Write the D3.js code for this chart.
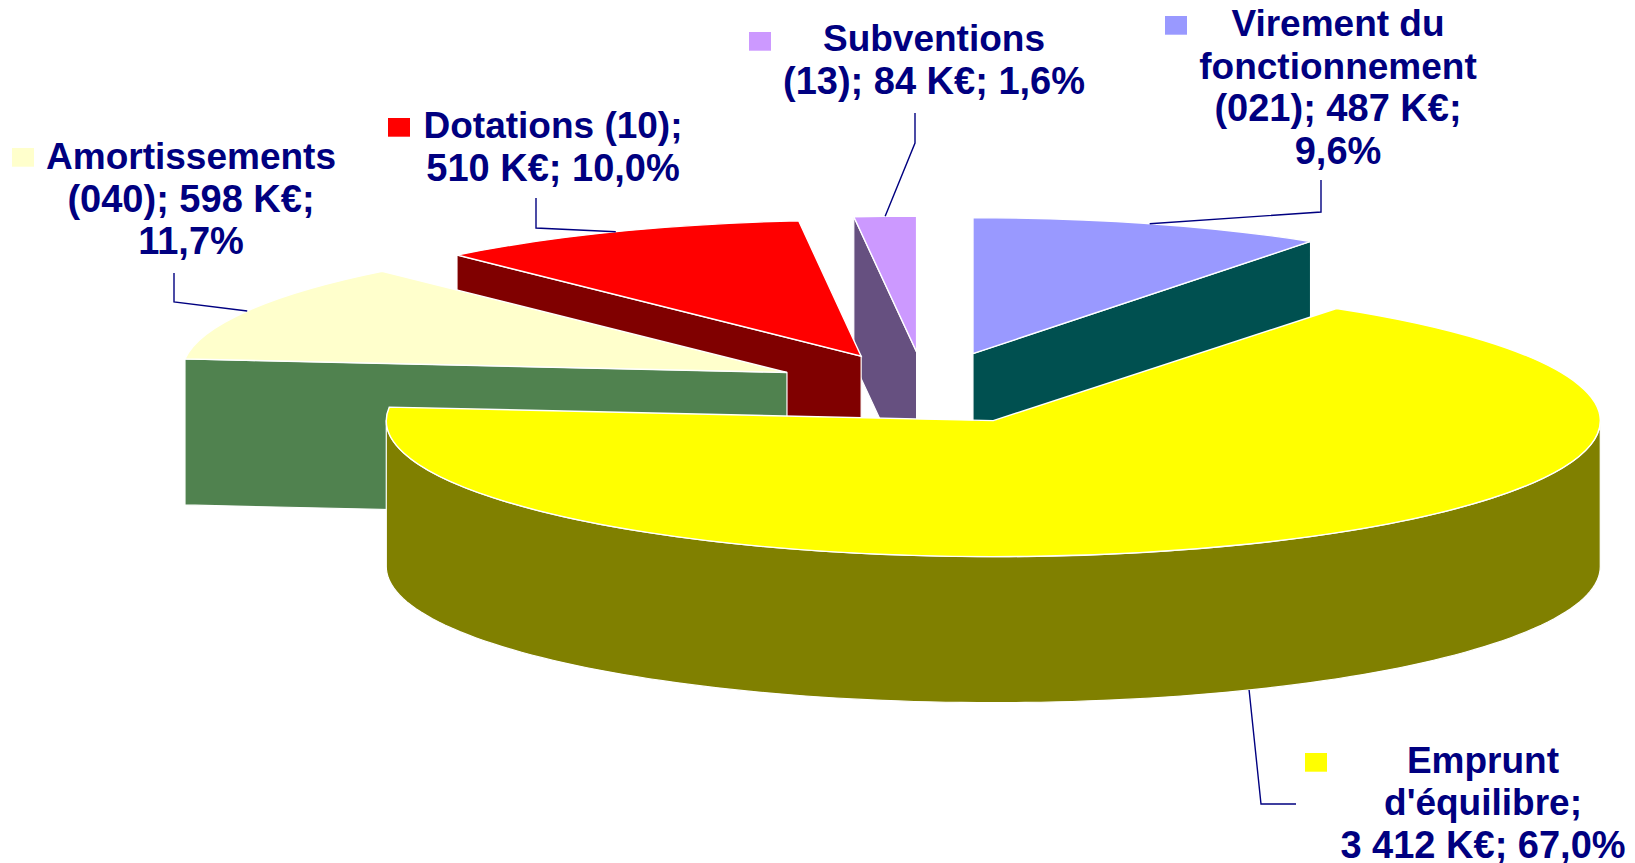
<!DOCTYPE html>
<html>
<head>
<meta charset="utf-8">
<style>
    html, body { margin: 0; padding: 0; background: #fff; overflow: hidden; }
    .slice__top { stroke: #fff; stroke-width: 1.4; vector-effect: non-scaling-stroke; }
    .slice__side { stroke: #fff; stroke-width: 1.2; stroke-linejoin: round; }
    .leader { fill: none; stroke: #000080; stroke-width: 1.4; }
    .label__text { font: bold 37px "Liberation Sans", Arial, sans-serif; fill: #000080; text-anchor: middle; }
</style>
<script src="https://cdn.jsdelivr.net/npm/d3@7/dist/d3.min.js"></script>
</head>
<body>
<script>
// values in K€, clockwise from 12 o'clock
var names  = ['Virement', 'Emprunt', 'Amortissements', 'Dotations', 'Subventions'];
var values = [487, 3412, 598, 510, 84];

var labelLines = [
    ['Virement du', 'fonctionnement', '(021); 487 K€;', '9,6%'],
    ['Emprunt', "d'équilibre;", '3 412 K€; 67,0%'],
    ['Amortissements', '(040); 598 K€;', '11,7%'],
    ['Dotations (10);', '510 K€; 10,0%'],
    ['Subventions', '(13); 84 K€; 1,6%']
];

var topColors  = ['#9999ff', '#ffff00', '#ffffcc', '#ff0000', '#cc99ff'];
var sideColors = ['#005050', '#808000', '#50824f', '#800000', '#665080'];

// per slice layout, same order as names
var explode   = [1, 1, 0.955, 0.97, 1];
var radiusX   = [597, 607, 605, 604, 607];
var cutFace   = ['end', 'wall', 'start', 'start', 'start'];
var labelX    = [1338, 1483, 191, 553, 934];
var labelY    = [36, 772.5, 169, 138, 51];
var keyX      = [1165, 1305, 12, 388, 749];
var keyY      = [16, 753, 148, 118, 32];
var leaderPts = [
    [[1321, 212], [1321, 180]],
    [[1261, 804], [1296, 804]],
    [[174, 302], [174, 273]],
    [[536, 228], [536, 198]],
    [[915, 143], [915, 113]]
];

var drawOrder = [0, 4, 3, 2, 1];

var layout = {
    width: 1635, height: 863,
    center: { x: 925, y: 388 },
    ry: 136, depth: 146,
    explodeX: 162, explodeY: 36,
    lineHeight: 42.5,
    keySize: 22
};

var slices = d3.pie().sort(null).value(d => d)(values);

var svg = d3.select('body').append('svg')
    .attr('width', layout.width)
    .attr('height', layout.height)
;

function apex(i) {
    var mid = (slices[i].startAngle + slices[i].endAngle) / 2;
    return {
        x: layout.center.x + Math.sin(mid) * layout.explodeX * explode[i],
        y: layout.center.y - Math.cos(mid) * layout.explodeY * explode[i]
    };
}

function rim(i, angle) {
    return [Math.sin(angle) * radiusX[i], -Math.cos(angle) * layout.ry];
}

function sidePoints(i) {
    var s = slices[i], d = layout.depth;
    if (cutFace[i] === 'wall') {
        // outer wall, only the part turned towards the viewer
        var from = Math.PI / 2, to = Math.min(s.endAngle, 3 * Math.PI / 2);
        var angles = d3.range(0, 121).map(k => from + (to - from) * k / 120);
        var upper = angles.map(a => rim(i, a));
        var lower = upper.map(p => [p[0], p[1] + d]).reverse();
        return upper.concat(lower);
    }
    var p = rim(i, cutFace[i] === 'start' ? s.startAngle : s.endAngle);
    return [[0, 0], p, [p[0], p[1] + d], [0, d]];
}

var line = d3.line();

var groups = svg.selectAll('.slice')
    .data(drawOrder)
    .enter().append('g')
    .attr('class', 'slice')
    .attr('transform', i => `translate(${ apex(i).x }, ${ apex(i).y })`)
;

groups.append('path')
    .attr('class', 'slice__side')
    .attr('fill', i => sideColors[i])
    .attr('d', i => line(sidePoints(i)) + 'Z')
;

groups.append('path')
    .attr('class', 'slice__top')
    .attr('fill', i => topColors[i])
    .attr('transform', i => `scale(1, ${ layout.ry / radiusX[i] })`)
    .attr('d', i => d3.arc().innerRadius(0).outerRadius(radiusX[i])(slices[i]))
;

// leader lines start on the rim, at the middle of the slice
svg.selectAll('.leader')
    .data(names)
    .enter().append('path')
    .attr('class', 'leader')
    .attr('d', (name, i) => {
        var mid = (slices[i].startAngle + slices[i].endAngle) / 2;
        var p = rim(i, mid), a = apex(i);
        var drop = cutFace[i] === 'wall' ? layout.depth : 0;
        return line([[a.x + p[0], a.y + p[1] + drop]].concat(leaderPts[i]));
    })
;

var labels = svg.selectAll('.label')
    .data(names)
    .enter().append('g')
    .attr('class', 'label')
;

labels.append('rect')
    .attr('x', (name, i) => keyX[i])
    .attr('y', (name, i) => keyY[i])
    .attr('width', layout.keySize)
    .attr('height', layout.keySize * 0.85)
    .attr('fill', (name, i) => topColors[i])
;

labels.each(function (name, i) {
    d3.select(this).selectAll('text')
        .data(labelLines[i])
        .enter().append('text')
        .attr('class', 'label__text')
        .attr('x', labelX[i])
        .attr('y', (text, k) => labelY[i] + k * layout.lineHeight)
        .style('font-size', text => /K€|%/.test(text) ? '38px' : '37px')
        .text(text => text)
    ;
});
</script>
</body>
</html>
